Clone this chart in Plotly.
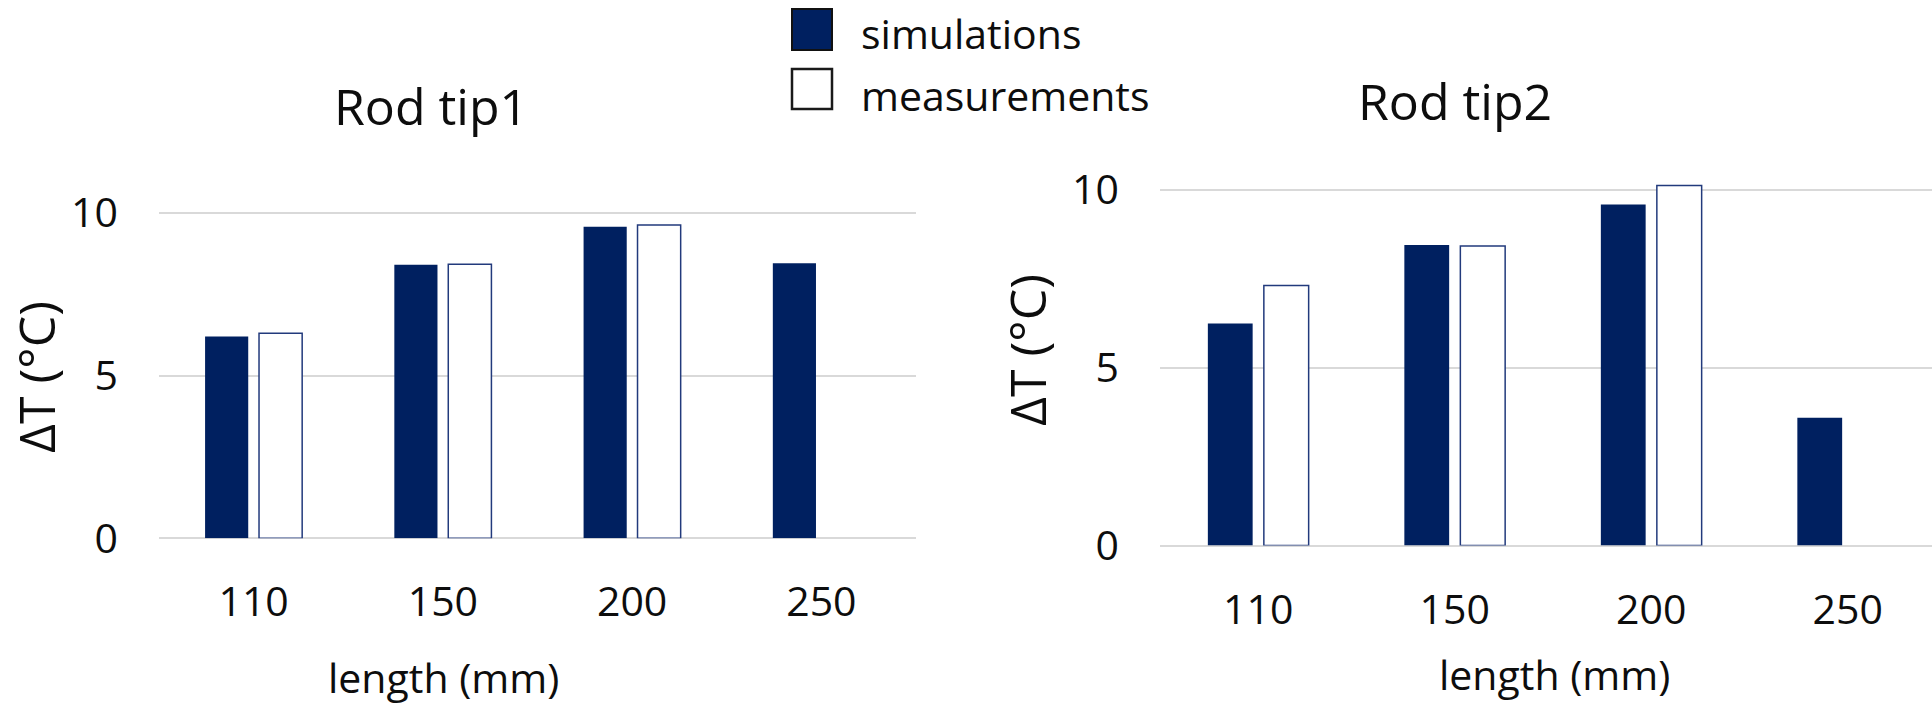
import plotly.graph_objects as go

# ---- data ----
lengths = ["110", "150", "200", "250"]
tip1_simulations = [6.2, 8.4, 9.57, 8.45]
tip1_measurements = [6.3, 8.42, 9.62, None]
tip2_simulations = [6.24, 8.45, 9.59, 3.59]
tip2_measurements = [7.31, 8.42, 10.12, None]
y_ticks = [0, 5, 10]

W, H = 1932, 706
NAVY = "#002060"
OUTLINE = "rgb(34,58,124)"
GRID = "#D9D9D9"
FONT = "Open Sans"
TXT = "#0d0d0d"


def px(x):
    return x / W


def py(y):
    return 1 - y / H


fig = go.Figure()

fig.add_trace(go.Bar(x=lengths, y=tip1_simulations, name="simulations",
                     marker=dict(color=NAVY, line=dict(width=0)),
                     xaxis="x", yaxis="y", showlegend=False))
fig.add_trace(go.Bar(x=lengths, y=tip1_measurements, name="measurements",
                     marker=dict(color="white", line=dict(color=OUTLINE, width=1.5)),
                     xaxis="x", yaxis="y", showlegend=False))
fig.add_trace(go.Bar(x=lengths, y=tip2_simulations, name="simulations",
                     marker=dict(color=NAVY, line=dict(width=0)),
                     xaxis="x2", yaxis="y2", showlegend=False))
fig.add_trace(go.Bar(x=lengths, y=tip2_measurements, name="measurements",
                     marker=dict(color="white", line=dict(color=OUTLINE, width=1.5)),
                     xaxis="x2", yaxis="y2", showlegend=False))

tickfont = dict(family=FONT, size=41, color=TXT)

xcommon = dict(type="category", showgrid=False, zeroline=False, showline=False,
               ticks="", tickfont=tickfont, ticklabelstandoff=36, fixedrange=True,
               automargin=False)
ycommon = dict(range=[0, 11], tickvals=y_ticks, showgrid=True, gridcolor=GRID,
               gridwidth=2, zeroline=True, zerolinecolor=GRID, zerolinewidth=2,
               showline=False, ticks="", tickfont=tickfont, ticklabelstandoff=40,
               fixedrange=True, automargin=False)

fig.update_layout(
    width=W, height=H,
    margin=dict(l=0, r=0, t=0, b=0, pad=0, autoexpand=False),
    paper_bgcolor="white", plot_bgcolor="white",
    barmode="group", bargap=0.43, bargroupgap=0.2,
    showlegend=False,
    xaxis=dict(domain=[px(159), px(916)], range=[-0.5, 3.5], anchor="y", **xcommon),
    yaxis=dict(domain=[py(538.3), py(538.3 - 11 * 32.56)], anchor="x", **ycommon),
    xaxis2=dict(domain=[px(1160), 1.0], range=[-0.5, -0.5 + 772 / 196.5], anchor="y2", **xcommon),
    yaxis2=dict(domain=[py(545.5), py(545.5 - 11 * 35.57)], anchor="x2", **ycommon),
)

annotations = [
    dict(text="Rod tip1", x=px(431), y=py(106), font=dict(family=FONT, size=50, color=TXT)),
    dict(text="Rod tip2", x=px(1455), y=py(101), font=dict(family=FONT, size=50, color=TXT)),
    dict(text="length (mm)", x=px(443), y=py(677), font=dict(family=FONT, size=41, color=TXT)),
    dict(text="length (mm)", x=px(1554), y=py(674), font=dict(family=FONT, size=41, color=TXT)),
    dict(text="ΔT (°C)", x=0, y=py(377), textangle=-90, xanchor="left",
         font=dict(family=FONT, size=50, color=TXT)),
    dict(text="ΔT (°C)", x=px(1027), y=py(350), textangle=-90,
         font=dict(family=FONT, size=50, color=TXT)),
]
for a in annotations:
    a.setdefault("xanchor", "center")
    a.update(xref="paper", yref="paper", yanchor="middle", showarrow=False)

# legend labels
for label, yc in [("simulations", 33), ("measurements", 95)]:
    annotations.append(dict(text=label, x=px(859), y=py(yc), xref="paper", yref="paper",
                            xanchor="left", yanchor="middle", showarrow=False,
                            font=dict(family=FONT, size=41, color=TXT)))
fig.update_layout(annotations=annotations)

# legend swatches
fig.add_shape(type="rect", xref="paper", yref="paper",
              x0=px(792), x1=px(832), y0=py(50), y1=py(9),
              fillcolor=NAVY, line=dict(color="#111111", width=2))
fig.add_shape(type="rect", xref="paper", yref="paper",
              x0=px(792), x1=px(832), y0=py(109), y1=py(69),
              fillcolor="white", line=dict(color="#1a1a1a", width=2.5))

fig.write_html("out.html", config={"displayModeBar": False},
               post_script="document.body.style.margin='0';document.body.style.overflow='hidden';")
